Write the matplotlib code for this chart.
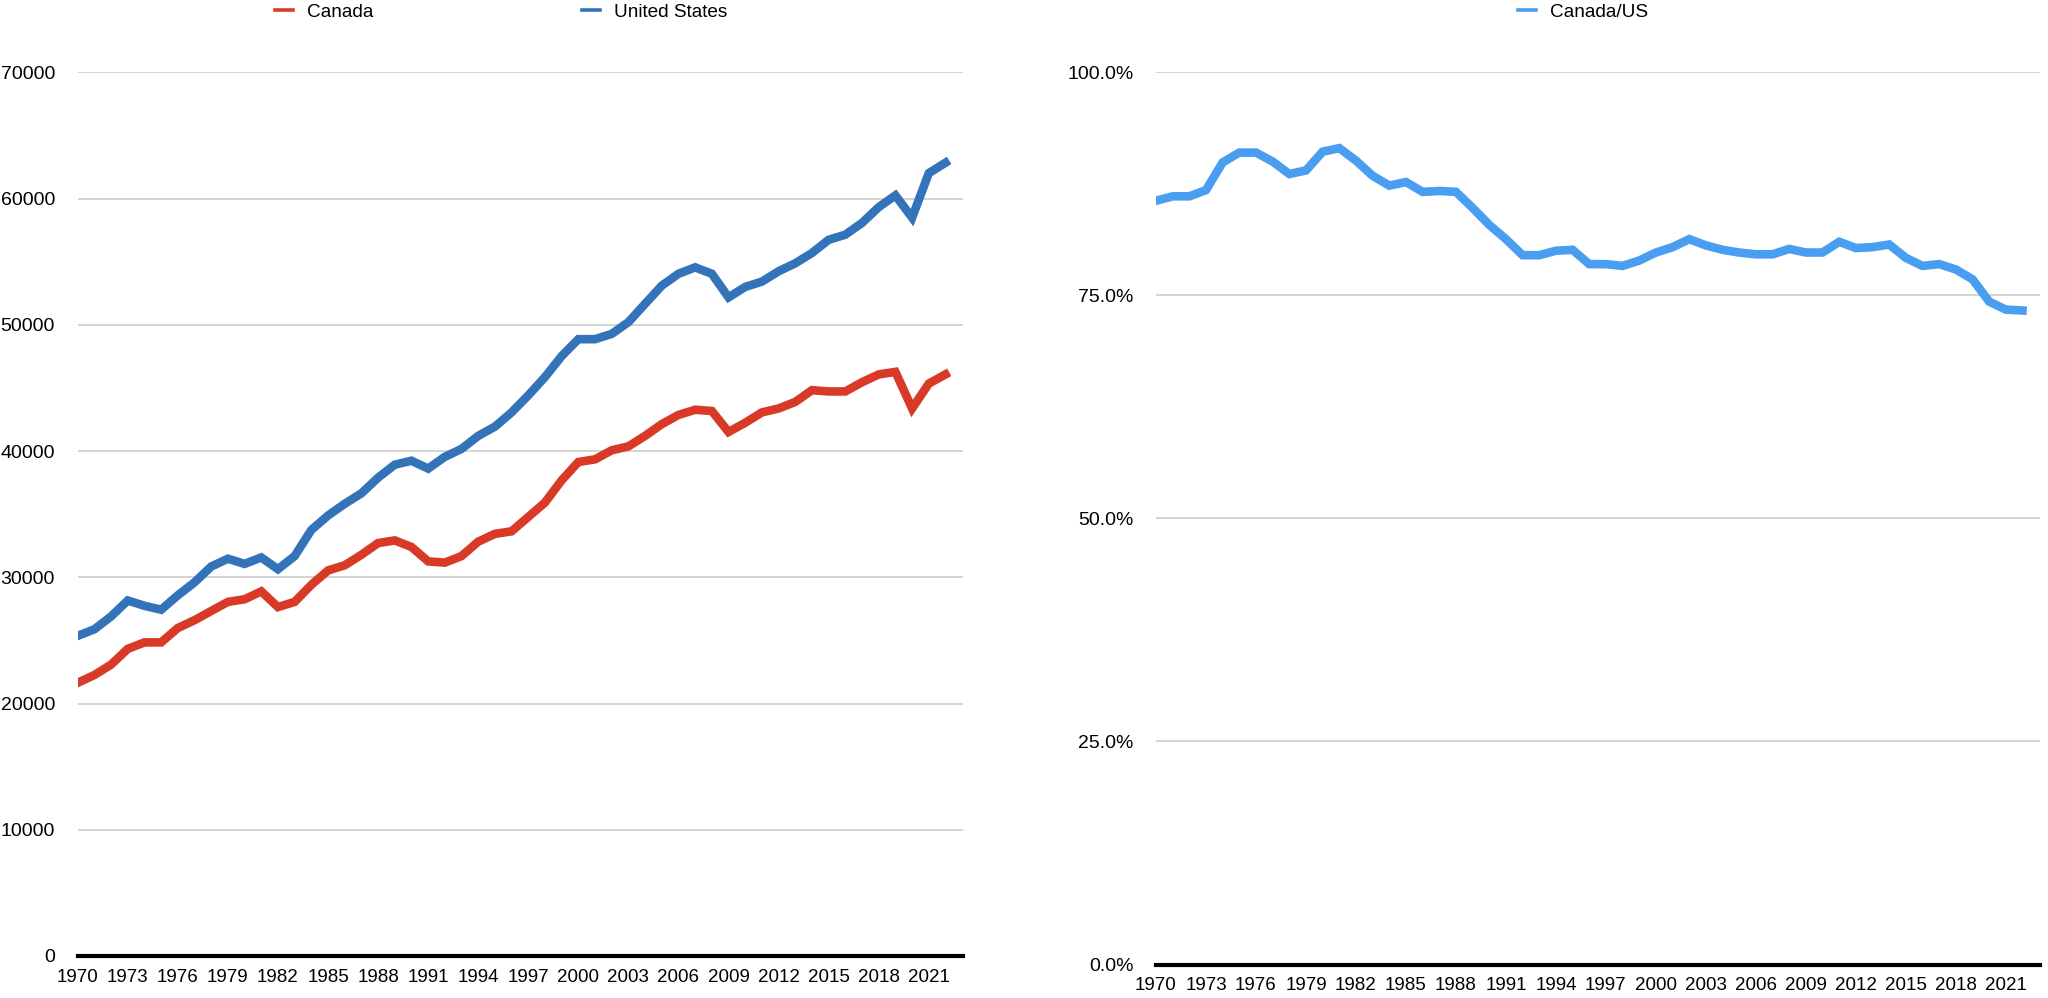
import matplotlib
matplotlib.use("Agg")
import matplotlib.pyplot as plt
from matplotlib.ticker import FixedLocator, FuncFormatter

plt.rcParams['font.family'] = ['Liberation Sans', 'DejaVu Sans']

years = list(range(1970, 2023))
canada = [21640, 22260, 23080, 24330, 24840, 24840, 25980, 26600, 27330, 28050,
          28260, 28880, 27640, 28050, 29400, 30540, 30950, 31780, 32710, 32920,
          32400, 31260, 31160, 31680, 32820, 33440, 33640, 34780, 35920, 37680,
          39130, 39340, 40060, 40370, 41200, 42130, 42860, 43270, 43170, 41510,
          42240, 43060, 43370, 43890, 44820, 44720, 44720, 45450, 46070, 46270,
          43370, 45340, 46070]
united_states = [25360, 25880, 26900, 28160, 27740, 27430, 28570, 29600, 30850, 31470,
                 31060, 31570, 30640, 31680, 33750, 34890, 35820, 36650, 37890, 38920,
                 39230, 38610, 39540, 40170, 41200, 41930, 43060, 44410, 45860, 47520,
                 48860, 48860, 49280, 50210, 51660, 53100, 54040, 54550, 54040, 52170,
                 53000, 53420, 54240, 54870, 55690, 56730, 57140, 58070, 59320, 60250,
                 58490, 62010, 62840]
ratio_pct = [85.6, 86.1, 86.1, 86.8, 89.9, 91.0, 91.0, 90.0, 88.6, 89.0,
             91.1, 91.5, 90.1, 88.4, 87.3, 87.7, 86.6, 86.7, 86.6, 84.8,
             82.9, 81.3, 79.5, 79.5, 80.0, 80.1, 78.5, 78.5, 78.3, 78.9,
             79.8, 80.4, 81.3, 80.6, 80.1, 79.8, 79.6, 79.6, 80.2, 79.8,
             79.8, 81.0, 80.3, 80.4, 80.7, 79.2, 78.3, 78.5, 77.9, 76.8,
             74.3, 73.4, 73.3]
xtick_years = list(range(1970, 2022, 3))
left_yticks = [0, 10000, 20000, 30000, 40000, 50000, 60000, 70000]
right_yticks = [0, 25, 50, 75, 100]

RED = '#D93A27'
BLUE = '#3373BA'
LIGHT = '#4A9EF2'
GRID = '#C9C9C9'
FS_X = 13.5
FS_Y = 14
FS_L = 13.7

W, H = 2048, 998
fig = plt.figure(figsize=(W / 100, H / 100), dpi=100)

def box(l, r, b, t):
    return [l / W, 1 - b / H, (r - l) / W, (b - t) / H]

ax1 = fig.add_axes(box(77.7, 963, 956, 72.3))
ax2 = fig.add_axes(box(1156, 2040, 964.5, 72.3))

def style(ax):
    for s in ['left', 'right', 'top']:
        ax.spines[s].set_visible(False)
    ax.spines['bottom'].set_color('black')
    ax.spines['bottom'].set_linewidth(3.0)
    ax.spines['bottom'].set_zorder(5)
    ax.grid(axis='y', color=GRID, linewidth=1.1)
    ax.set_axisbelow(True)
    ax.tick_params(axis='both', length=0)
    ax.tick_params(axis='x', labelsize=FS_X, pad=9)
    ax.tick_params(axis='y', labelsize=FS_Y, pad=16.3)
    ax.set_xlim(1970, 2023.05)
    ax.xaxis.set_major_locator(FixedLocator(xtick_years))

style(ax1)
l1, = ax1.plot(years, canada, color=RED, lw=6.2, solid_joinstyle='miter', label='Canada')
l2, = ax1.plot(years, united_states, color=BLUE, lw=6.2, solid_joinstyle='miter', label='United States')
ax1.set_ylim(0, 70000)
ax1.yaxis.set_major_locator(FixedLocator(left_yticks))
ax1.yaxis.set_major_formatter(FuncFormatter(lambda v, p: f"{int(v)}"))

style(ax2)
l3, = ax2.plot(years, ratio_pct, color=LIGHT, lw=6.2, solid_joinstyle='miter', label='Canada/US')
ax2.set_ylim(0, 100)
ax2.yaxis.set_major_locator(FixedLocator(right_yticks))
ax2.yaxis.set_major_formatter(FuncFormatter(lambda v, p: f"{v:.1f}%"))

legends = []
for handle, xpos in ((l1, 275), (l2, 581.7), (l3, 1518)):
    lg = fig.legend(handles=[handle], loc='center left', bbox_to_anchor=(xpos / W, 1 - 12.5 / H),
                    frameon=False, fontsize=FS_L, handlelength=0.96,
                    handletextpad=0.72, borderpad=0, borderaxespad=0)
    for ln in lg.get_lines():
        ln.set_linewidth(2.6)
    legends.append(lg)

fig.savefig('out.png', dpi=100)
